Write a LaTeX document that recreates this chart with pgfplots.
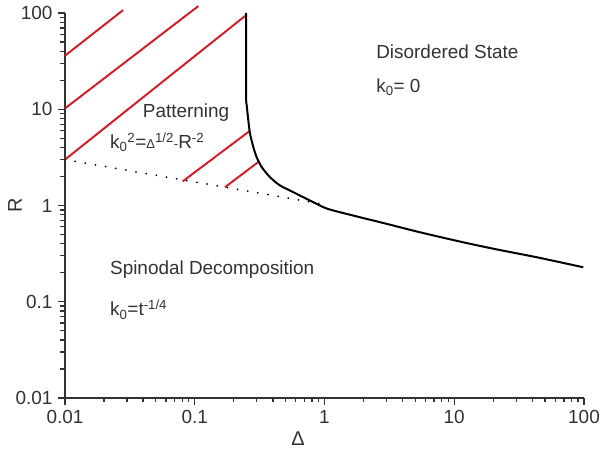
\documentclass[border=0pt]{standalone}
\usepackage{pgfplots}
\pgfplotsset{compat=1.18}
\usepackage{fontspec}
\setmainfont{Liberation Sans}
\definecolor{hatch}{RGB}{208,32,42}
\definecolor{txt}{RGB}{50,50,50}
\begin{document}
\begin{tikzpicture}
\begin{axis}[
  scale only axis, width=519bp, height=385bp,
  xmode=log, ymode=log,
  xmin=0.01, xmax=100, ymin=0.01, ymax=100,
  axis lines*=left,
  axis line style={draw=txt, line width=1.3bp},
  tick align=outside, tick pos=left,
  major tick length=7bp,
  tick style={draw=txt, line width=1.4bp},
  xtick={0.01,0.1,1,10,100}, ytick={0.01,0.1,1,10,100},
  xminorticks=false, yminorticks=false,
  log ticks with fixed point,
  /pgf/number format/assume math mode=true,
  tick label style={font=\fontsize{19}{22}\selectfont, text=txt},
  xticklabel style={yshift=-2bp},
  yticklabel style={xshift=-2bp},
  xlabel={Δ}, ylabel={R},
  label style={font=\fontsize{20}{24}\selectfont, text=txt},
  xlabel style={at={(axis description cs:0.449,0)}, anchor=center, yshift=-41bp},
  ylabel style={at={(axis description cs:0,0.5)}, anchor=center, yshift=50bp},
  clip=false,
]
% hatch lines
\addplot[hatch, line width=2bp] coordinates {(0.01,36) (0.028,107)};
\addplot[hatch, line width=2bp] coordinates {(0.01,10.2) (0.1066,118)};
\addplot[hatch, line width=2bp] coordinates {(0.01,3.0) (0.244,93)};
\addplot[hatch, line width=2bp] coordinates {(0.0807,1.78) (0.263,5.9)};
\addplot[hatch, line width=2bp] coordinates {(0.171,1.55) (0.309,2.83)};
% spinodal (dotted)
\addplot[black, line width=2bp, line cap=round, dash pattern=on 0bp off 10.3bp] coordinates {(0.01,3.0) (0.95,1.04)};
% boundary
\addplot[black, line width=2bp, smooth, tension=0.45] coordinates {
  (0.249,100) (0.249,14) (0.2515,11) (0.2587,7.68) (0.2667,5.58)
  (0.2827,4.05) (0.300,3.18) (0.328,2.51) (0.38,1.97) (0.454,1.615)
  (0.575,1.376) (0.773,1.127) (1.04,0.93) (1.667,0.786) (3.01,0.645)
  (5.44,0.527) (11.7,0.415) (21.2,0.35) (43.2,0.29) (98.8,0.228)
};
\begin{scope}[every node/.style={inner sep=0pt, anchor=base west, text=txt, font=\fontsize{19}{22}\selectfont}]
\node at (axis cs:2.5,34) {Disordered State};
\node at (axis cs:2.5,15) {k\textsubscript{0}= 0};
\node at (axis cs:0.0397,8.3) {Patterning};
\node at (axis cs:0.0222,3.9) {k\textsubscript{0}\textsuperscript{2}={\fontsize{13}{13}\selectfont Δ}\textsuperscript{1/2}{\fontsize{13}{13}\selectfont -}R\textsuperscript{-2}};
\node at (axis cs:0.0222,0.194) {Spinodal Decomposition};
\node at (axis cs:0.0222,0.0715) {k\textsubscript{0}=t\textsuperscript{-1/4}};
\end{scope}
\end{axis}
% tick marks along the two axis lines (4 decades each)
\begin{scope}[draw=txt, line width=1.3bp]
\foreach \d in {0,...,4} {
  \draw ([xshift={\d*129.75bp}]current axis.south west) -- ++(0,-7bp);
  \draw ([yshift={\d*96.25bp}]current axis.south west) -- ++(-7bp,0);
}
\foreach \d in {0,...,3} \foreach \m in {2,...,9} {
  \draw ([xshift={(\d+log10(\m))*129.75bp}]current axis.south west) -- ++(0,-4.5bp);
  \draw ([yshift={(\d+log10(\m))*96.25bp}]current axis.south west) -- ++(-4.5bp,0);
}
\end{scope}
\pgfresetboundingbox
\path[use as bounding box] ([xshift=-65bp,yshift=-59bp]current axis.south west) rectangle ([xshift=17bp,yshift=13bp]current axis.north east);
\end{tikzpicture}
\end{document}
